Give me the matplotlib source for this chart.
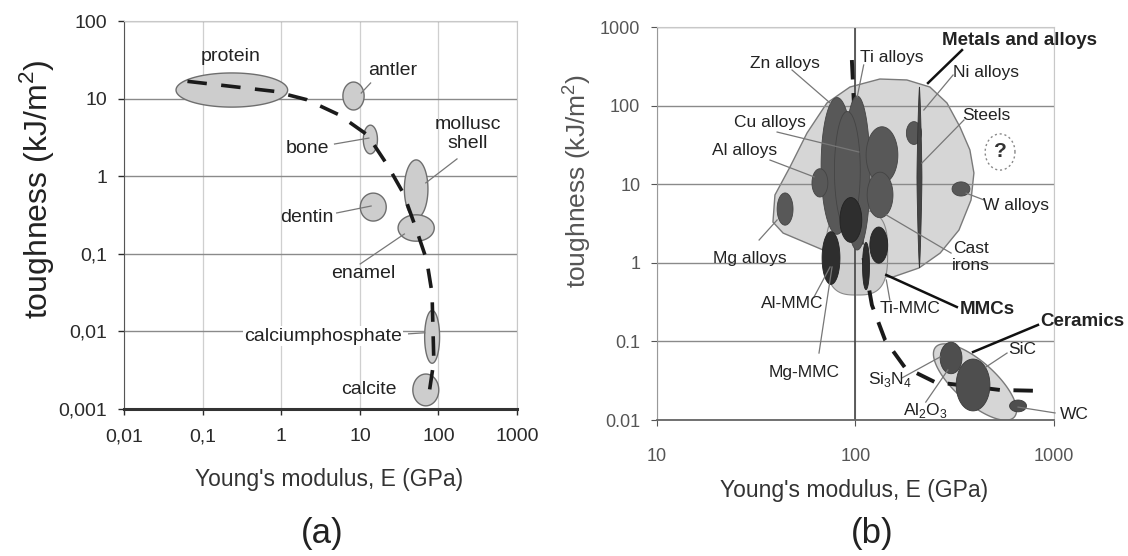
import numpy as np
import matplotlib
matplotlib.use("Agg")
import matplotlib.pyplot as plt
from matplotlib.ticker import NullLocator

plt.rcParams["font.family"] = ["Liberation Sans", "DejaVu Sans"]

# ---------------- (a) biological materials ----------------
a_xticks = [0.01, 0.1, 1, 10, 100, 1000]
a_xticklabels = ["0,01", "0,1", "1", "10", "100", "1000"]
a_yticks = [0.001, 0.01, 0.1, 1, 10, 100]
a_yticklabels = ["0,001", "0,01", "0,1", "1", "10", "100"]

bio_names = ["protein", "antler", "bone", "dentin", "mollusc\nshell", "enamel",
             "calciumphosphate", "calcite"]
bio_E = [0.235, 8.3, 13.6, 14.8, 52, 52, 83, 69]
bio_tough = [12.9, 10.8, 2.97, 0.40, 0.684, 0.215, 0.0085, 0.00176]
bio_w = [1.42, 0.27, 0.18, 0.33, 0.30, 0.46, 0.19, 0.33]   # decades
bio_h = [0.44, 0.36, 0.37, 0.36, 0.75, 0.34, 0.68, 0.41]
bio_lab_E = [0.23, 26, 2.17, 2.1, 234, 11.2, 3.4, 13]
bio_lab_t = [35, 22.7, 2.3, 0.29, 3.5, 0.055, 0.0087, 0.0018]
bio_lead = [None, ((10.4, 11.8), (13.7, 15.9)), ((4.76, 2.6), (13, 3.1)),
            ((5.07, 0.336), (13.9, 0.413)), ((172, 1.67), (69, 0.82)),
            ((10.1, 0.074), (36.8, 0.18)), ((41.7, 0.0093), (66.8, 0.0096)), None]

bio_trend_E = [0.064, 0.82, 2.1, 5.4, 12.5, 22.3, 35.8, 51.7, 70.8, 82.8, 87.3, 74.5]
bio_trend_t = [16.7, 12.4, 9.7, 6.2, 3.4, 1.40, 0.60, 0.213, 0.083, 0.031, 0.0041, 0.0014]

# ---------------- (b) engineering materials ----------------
b_xticks = [10, 100, 1000]
b_yticks = [0.01, 0.1, 1, 10, 100, 1000]
b_yticklabels = ["0.01", "0.1", "1", "10", "100", "1000"]

metals_E = [71.8, 93.8, 132.7, 181.5, 237, 289, 336, 377, 395, 382, 332, 267, 209,
            154.5, 111.7, 83.6, 68.5, 43.2, 38.4, 39.3, 46.8, 57]
metals_t = [108, 172.5, 218, 212, 172.5, 108, 53.5, 27.3, 13.9, 6.3, 2.61, 1.33, 0.86,
            0.66, 0.68, 1.02, 1.46, 2.39, 3.30, 7.3, 16.6, 44.8]

# alloy groups: E, toughness, width / height in decades
alloy_E = [80.7, 102, 136, 133, 66.2, 91, 197, 340, 44.2]
alloy_t = [17.1, 13.9, 23.5, 7.3, 10.4, 15, 44.8, 8.7, 4.83]
alloy_w = [0.16, 0.13, 0.16, 0.13, 0.08, 0.13, 0.076, 0.09, 0.08]
alloy_h = [1.74, 1.96, 0.72, 0.58, 0.36, 1.5, 0.29, 0.18, 0.41]

mmc_E = [94.8, 75.3, 131, 113]
mmc_t = [3.51, 1.15, 1.68, 0.91]
mmc_w = [0.11, 0.09, 0.09, 0.035]
mmc_h = [0.57, 0.67, 0.46, 0.6]

steel_E, steel_t, steel_w, steel_h = 210, 12.2, 0.025, 2.30
mmc_zone = (101.6, 1.35, 0.31, 1.08)
ceramic_zone = (400, 0.0304, 0.53, 0.52, -41.7)
ceram_E = [303, 391, 659]
ceram_t = [0.0615, 0.0279, 0.0151]
ceram_w = [0.11, 0.17, 0.085]
ceram_h = [0.40, 0.66, 0.15]
unknown = (535, 25.7, 0.15, 0.46)

trend_E = [95.9, 100.7, 108, 121, 141, 177, 251, 535, 902]
trend_t = [380, 27, 1.46, 0.29, 0.104, 0.047, 0.0304, 0.0241, 0.0234]

b_labels = ["Metals and alloys", "Ti alloys", "Zn alloys", "Ni alloys", "Cu alloys",
            "Steels", "Al alloys", "W alloys", "Mg alloys", "Cast\nirons", "Al-MMC",
            "Ti-MMC", "MMCs", "Mg-MMC", "Ceramics", "SiC",
            r"Si$_\mathregular{3}$N$_\mathregular{4}$",
            r"Al$_\mathregular{2}$O$_\mathregular{3}$", "WC"]
b_lab_E = [667, 152, 44.2, 454, 37.1, 454, 27.7, 647, 29.4, 382, 47.9, 188, 462,
           55.3, 1383, 690, 149, 226, 1262]
b_lab_t = [664, 415, 348, 267, 61.8, 75.9, 27.2, 5.43, 1.15, 1.19, 0.308, 0.266, 0.258,
           0.0408, 0.177, 0.0778, 0.0323, 0.0134, 0.0119]
b_bold = [True, False, False, False, False, False, False, False, False, False, False,
          False, True, False, True, False, False, False, False]
b_lead = [((344, 509), (232, 194)), ((110, 329), (102, 129)), ((47.9, 284), (74.5, 108)),
          ((310, 245), (221, 88)), ((40.3, 46.1), (104, 25.7)), ((352, 65.6), (216, 18.6)),
          ((37.1, 20.3), (61.8, 12.4)), ((444, 6.3), (361, 7.7)), ((32.7, 1.95), (40.3, 3.51)),
          ((303, 1.33), (143, 4.06)), ((61.8, 0.367), (74.5, 0.885)),
          ((149, 0.336), (143, 0.604)), ((324, 0.274), (143, 0.70)),
          ((65.5, 0.0711), (76.2, 0.885)), ((830, 0.162), (391, 0.0733)),
          ((580, 0.0711), (454, 0.0472)), ((171, 0.0342), (267, 0.0634)),
          ((226, 0.0169), (292, 0.0433)), ((1012, 0.0123), (659, 0.0146))]

W, H = 1128, 556
fig = plt.figure(figsize=(W / 100, H / 100), dpi=100)
axa = fig.add_axes([0.110, 0.2644, 0.3484, 0.6978])
axb = fig.add_axes([0.5824, 0.2446, 0.352, 0.7068])


def blob(ax, x, y, w, h, angle=0, p=2, ndx=5, ndy=5, **kw):
    '''superellipse drawn in log space; w, h in decades, angle in screen degrees'''
    pos = ax.get_position()
    sx = pos.width * W / ndx
    sy = pos.height * H / ndy
    t = np.linspace(0, 2 * np.pi, 300)
    c, s = np.cos(t), np.sin(t)
    u = 0.5 * w * sx * np.sign(c) * np.abs(c) ** (2 / p)
    v = 0.5 * h * sy * np.sign(s) * np.abs(s) ** (2 / p)
    a = np.radians(angle)
    ur = u * np.cos(a) - v * np.sin(a)
    vr = u * np.sin(a) + v * np.cos(a)
    return ax.fill(10 ** (np.log10(x) + ur / sx), 10 ** (np.log10(y) + vr / sy), **kw)


# ---- panel (a) ----
axa.set_xscale("log")
axa.set_yscale("log")
axa.set_xlim(0.01, 1000)
axa.set_ylim(0.001, 100)
axa.set_xticks(a_xticks)
axa.set_xticklabels(a_xticklabels)
axa.set_yticks(a_yticks)
axa.set_yticklabels(a_yticklabels)
for axis in (axa.xaxis, axa.yaxis):
    axis.set_minor_locator(NullLocator())
axa.set_axisbelow(True)
axa.grid(axis="y", color="#8a8a8a", lw=1.0)
axa.grid(axis="x", color="#cfcfcf", lw=0.9)
axa.tick_params(labelsize=14, colors="#2a2a2a", length=4, width=1)
axa.tick_params(axis="x", pad=10)
axa.tick_params(axis="y", pad=8)
axa.spines["bottom"].set_linewidth(2.2)
axa.spines["bottom"].set_color("#333333")
axa.spines["left"].set_color("#555555")
for sp in ("top", "right"):
    axa.spines[sp].set_color("#c8c8c8")

for E, t, w, h in zip(bio_E, bio_tough, bio_w, bio_h):
    blob(axa, E, t, w, h, fc="#cdcdcd", ec="#6e6e6e", lw=1.0, zorder=2)
for name, lx, ly, ld in zip(bio_names, bio_lab_E, bio_lab_t, bio_lead):
    if ld is not None:
        axa.plot([ld[0][0], ld[1][0]], [ld[0][1], ld[1][1]], color="#777777", lw=0.9, zorder=3)
    bb = None
    if name == "calciumphosphate":
        bb = dict(fc="white", ec="none", pad=1)
    axa.text(lx, ly, name, fontsize=14, color="#222222", ha="center", va="center",
             linespacing=1.15, bbox=bb, zorder=4)
axa.plot(bio_trend_E, bio_trend_t, color="#1a1a1a", lw=2.6, ls=(0, (5.4, 4)), zorder=5)

# ---- panel (b) ----
axb.set_xscale("log")
axb.set_yscale("log")
axb.set_xlim(10, 1000)
axb.set_ylim(0.01, 1000)
axb.set_xticks(b_xticks)
axb.set_xticklabels([str(v) for v in b_xticks])
axb.set_yticks(b_yticks)
axb.set_yticklabels(b_yticklabels)
for axis in (axb.xaxis, axb.yaxis):
    axis.set_minor_locator(NullLocator())
axb.set_axisbelow("line")
axb.grid(axis="y", color="#8a8a8a", lw=1.0)
axb.grid(axis="x", color="#d0d0d0", lw=0.9)
axb.axvline(100, color="#444444", lw=1.2, zorder=1.6)
axb.tick_params(labelsize=13, colors="#555555", length=4, width=0.8)
axb.tick_params(axis="x", pad=16)
axb.tick_params(axis="y", pad=8)
axb.spines["bottom"].set_color("#666666")
axb.spines["bottom"].set_linewidth(1.3)
axb.spines["left"].set_color("#999999")
for sp in ("top", "right"):
    axb.spines[sp].set_color("#c8c8c8")

kb = dict(ndx=2, ndy=5)
axb.fill(metals_E, metals_t, fc="#d6d6d6", ec="#7a7a7a", lw=1.0, zorder=1)
blob(axb, *mmc_zone, p=3, fc="#cfcfcf", ec="#8a8a8a", lw=0.8, zorder=1.2, **kb)
blob(axb, *ceramic_zone, fc="#d6d6d6", ec="#7a7a7a", lw=1.0, zorder=1, **kb)
axb.plot(trend_E, trend_t, color="#1a1a1a", lw=2.8, ls=(0, (5, 3.5)), zorder=2)
for E, t, w, h in zip(alloy_E, alloy_t, alloy_w, alloy_h):
    blob(axb, E, t, w, h, fc="#585858", ec="#444444", lw=0.6, zorder=3, **kb)
for E, t, w, h in zip(mmc_E, mmc_t, mmc_w, mmc_h):
    blob(axb, E, t, w, h, fc="#2e2e2e", ec="#222222", lw=0.6, zorder=3.2, **kb)
blob(axb, steel_E, steel_t, steel_w, steel_h, p=1.3, fc="#444444", ec="#333333",
     lw=0.6, zorder=3.2, **kb)
for E, t, w, h in zip(ceram_E, ceram_t, ceram_w, ceram_h):
    blob(axb, E, t, w, h, fc="#4e4e4e", ec="#3a3a3a", lw=0.6, zorder=3, **kb)
blob(axb, *unknown, fc="none", ec="#888888", lw=1.0, ls=(0, (1.5, 2)), zorder=3, **kb)
axb.text(unknown[0], unknown[1], "?", fontsize=15, fontweight="bold", color="#333333",
         ha="center", va="center", zorder=4)

for name, lx, ly, bold, ld in zip(b_labels, b_lab_E, b_lab_t, b_bold, b_lead):
    axb.plot([ld[0][0], ld[1][0]], [ld[0][1], ld[1][1]],
             color="#111111" if bold else "#777777", lw=1.8 if bold else 0.9,
             zorder=4, clip_on=False)
    axb.text(lx, ly, name, fontsize=13.5 if bold else 12.5, ha="center", va="center",
             fontweight="bold" if bold else "normal", color="#222222", linespacing=1.2,
             zorder=5)

# ---- axis titles and panel tags ----
fig.text(0.032, 0.66, "toughness (kJ/m$^\\mathregular{2}$)", rotation=90, fontsize=23,
         ha="center", va="center", color="#222222")
fig.text(0.2917, 0.137, "Young's modulus, E (GPa)", fontsize=16.5, ha="center",
         va="center", color="#333333")
fig.text(0.286, 0.040, "(a)", fontsize=25, ha="center", va="center", color="#222222")

fig.text(0.511, 0.674, "toughness (kJ/m$^\\mathregular{2}$)", rotation=90, fontsize=19,
         ha="center", va="center", color="#555555")
fig.text(0.757, 0.117, "Young's modulus, E (GPa)", fontsize=16.5, ha="center",
         va="center", color="#333333")
fig.text(0.773, 0.040, "(b)", fontsize=25, ha="center", va="center", color="#222222")

fig.savefig("out.png", dpi=100)
